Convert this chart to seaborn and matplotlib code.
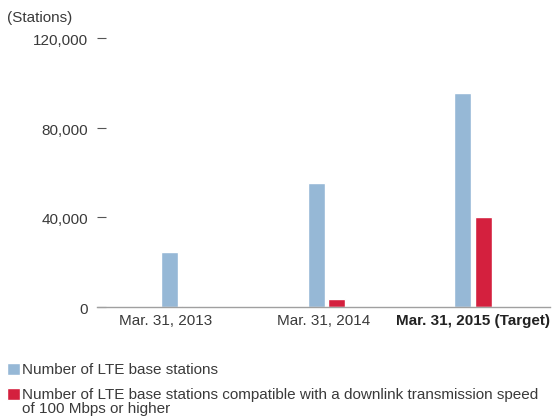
import matplotlib
matplotlib.use("Agg")
import matplotlib.pyplot as plt
import matplotlib.transforms as mtransforms
import seaborn as sns
import pandas as pd

# Chart data
dates = ["Mar. 31, 2013", "Mar. 31, 2014", "Mar. 31, 2015 (Target)"]
series_names = [
    "Number of LTE base stations",
    "Number of LTE base stations compatible with a downlink transmission speed\nof 100 Mbps or higher",
]
lte_total = [24600, 55400, 95600]
lte_100mbps = [300, 3600, 40000]
y_ticks = [0, 40000, 80000, 120000]
y_tick_labels = ["0", "40,000", "80,000", "120,000"]

BLUE = "#96b8d6"
RED = "#d4203e"
TEXT = "#3a3a3a"
FS = 11

df = pd.DataFrame({
    "date": dates * 2,
    "series": [series_names[0]] * 3 + [series_names[1]] * 3,
    "stations": lte_total + lte_100mbps,
})

sns.set_style("white")
plt.rcParams["font.family"] = ["Liberation Sans", "DejaVu Sans"]

fig = plt.figure(figsize=(5.52, 4.16), dpi=100)
ax = fig.add_axes([97 / 552, 109 / 416, 453 / 552, 269 / 416])

sns.barplot(
    data=df, x="date", y="stations", hue="series", order=dates,
    hue_order=series_names, palette=[BLUE, RED], width=0.28, gap=0.17,
    saturation=1, ax=ax, legend=True, errorbar=None,
)

ax.set_xlim(-0.567, 2.526)
ax.set_ylim(0, 120000)
ax.set_xlabel("")
ax.set_ylabel("")

for side in ("left", "top", "right"):
    ax.spines[side].set_visible(False)
ax.spines["bottom"].set_color("#a0a0a0")
ax.spines["bottom"].set_linewidth(1.0)

ax.set_yticks(y_ticks)
ax.set_yticklabels(y_tick_labels)
ax.tick_params(axis="y", left=True, direction="in", length=6.5, width=0.8, color="#555555",
               pad=6.5, labelsize=FS, labelcolor=TEXT)
ax.tick_params(axis="x", bottom=False, length=0, pad=5, labelsize=FS, labelcolor=TEXT)

# nudge tick labels slightly
for lbl in ax.get_yticklabels():
    lbl.set_transform(lbl.get_transform() + mtransforms.ScaledTranslation(0, -1.5 / 100, fig.dpi_scale_trans))
x_offsets = [-14, -3, 0]
for lbl, dx in zip(ax.get_xticklabels(), x_offsets):
    lbl.set_transform(lbl.get_transform() + mtransforms.ScaledTranslation(dx / 100, 0, fig.dpi_scale_trans))
xt = ax.get_xticklabels()
xt[2].set_fontweight("bold")
xt[2].set_color("#222222")

fig.text(7 / 552, 1 - 18 / 416, "(Stations)", fontsize=FS, color=TEXT, va="center", ha="left")

# legend beneath the plot; the long label wraps, with its marker beside the first line
handles, labels = ax.get_legend_handles_labels()
first_lines = [lab.split("\n")[0] for lab in labels]
leg = ax.legend(
    handles, first_lines, loc="upper left", bbox_to_anchor=(7 / 552, 1 - 363 / 416),
    bbox_transform=fig.transFigure, frameon=False, fontsize=FS,
    handlelength=0.85, handleheight=0.85, handletextpad=0.15,
    labelspacing=0.7, borderpad=0, borderaxespad=0,
)
for t in leg.get_texts():
    t.set_color(TEXT)

fig.canvas.draw()
renderer = fig.canvas.get_renderer()
for lab, t in zip(labels, leg.get_texts()):
    rest = lab.split("\n")[1:]
    if rest:
        bb = t.get_window_extent(renderer)
        fig.text(bb.x0 / fig.bbox.width, (bb.y0 - 14) / fig.bbox.height, "\n".join(rest),
                 fontsize=FS, color=TEXT, ha="left", va="bottom")

fig.savefig("out.png", dpi=100)
